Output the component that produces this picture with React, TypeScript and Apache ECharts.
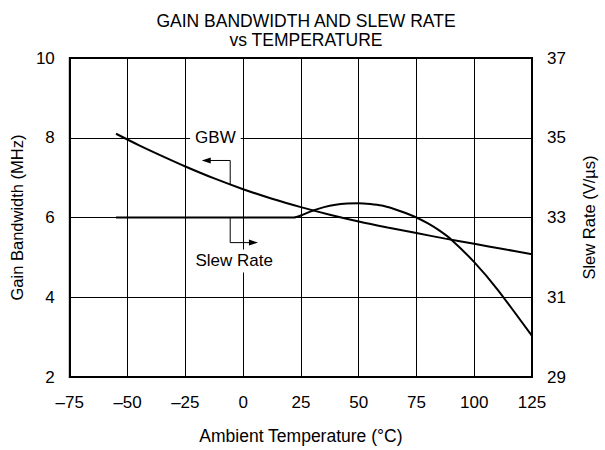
import React, { useEffect, useRef } from "react";
import * as echarts from "echarts";

const xTicks = [-75, -50, -25, 0, 25, 50, 75, 100, 125];
const gbwTemp = [-55, -45, -35, -25, -12.5, 0, 12.5, 25, 37.5, 50, 62.5, 75, 87.5, 100, 112.5, 125];
const gbwValues = [8.1, 7.81, 7.54, 7.28, 6.98, 6.71, 6.47, 6.26, 6.07, 5.9, 5.75, 5.61, 5.47, 5.34, 5.21, 5.08];
const slewTemp = [-55, 0, 22, 25, 30, 35, 40, 45, 50, 55, 60, 65, 70, 75, 80, 85, 90, 100, 110, 125];
const slewValues = [33, 33, 33, 33.05, 33.17, 33.26, 33.32, 33.35, 33.36, 33.34, 33.3, 33.22, 33.12, 33.0, 32.85, 32.67, 32.45, 31.88, 31.2, 30.03];

const FONT = "Liberation Sans, Arial, Helvetica, sans-serif";
const fmtX = (v: number) => (v < 0 ? "\u2013" + Math.abs(v) : String(v));

export default function App() {
  const ref = useRef<HTMLDivElement>(null);
  useEffect(() => {
    const chart = echarts.init(ref.current!, null, { renderer: "svg" });
    const axisLabel = { color: "#000", fontSize: 17, fontFamily: FONT };
    const option: any = {
      animation: false,
      backgroundColor: "#fff",
      title: {
        text: "GAIN BANDWIDTH AND SLEW RATE\nvs TEMPERATURE",
        left: 301,
        textAlign: "center",
        top: 6,
        textStyle: { color: "#000", fontSize: 17.5, fontWeight: "normal", fontFamily: FONT, lineHeight: 19 },
      },
      grid: { left: 68, right: 65, top: 58, bottom: 72, show: true, borderColor: "#000", borderWidth: 2, backgroundColor: "transparent" },
      xAxis: {
        type: "value",
        min: -75,
        max: 125,
        interval: 25,
        name: "Ambient Temperature (\u00b0C)",
        nameLocation: "middle",
        nameGap: 50,
        nameTextStyle: { color: "#000", fontSize: 17.5, fontFamily: FONT },
        axisLine: { show: true, onZero: false, lineStyle: { color: "#000", width: 2 } },
        axisTick: { show: false },
        axisLabel: { ...axisLabel, margin: 17, formatter: fmtX },
        splitLine: { show: true, lineStyle: { color: "#000", width: 1 } },
      },
      yAxis: [
        {
          type: "value",
          min: 2,
          max: 10,
          interval: 2,
          name: "Gain Bandwidth (MHz)",
          nameLocation: "middle",
          nameGap: 44,
          nameTextStyle: { color: "#000", fontSize: 16.5, fontFamily: FONT },
          axisLine: { show: true, onZero: false, lineStyle: { color: "#000", width: 2 } },
          axisTick: { show: false },
          axisLabel: { ...axisLabel, margin: 15 },
          splitLine: { show: true, lineStyle: { color: "#000", width: 1 } },
        },
        {
          type: "value",
          min: 29,
          max: 37,
          interval: 2,
          position: "right",
          name: "Slew Rate (V/\u00b5s)",
          nameLocation: "middle",
          nameGap: 48,
          nameRotate: 90,
          nameTextStyle: { color: "#000", fontSize: 16.5, fontFamily: FONT },
          axisLine: { show: true, onZero: false, lineStyle: { color: "#000", width: 2 } },
          axisTick: { show: false },
          axisLabel: { ...axisLabel, margin: 15 },
          splitLine: { show: false },
        },
      ],
      series: [
        {
          type: "line",
          name: "GBW",
          yAxisIndex: 0,
          data: gbwTemp.map((t, i) => [t, gbwValues[i]]),
          smooth: 0.3,
          showSymbol: false,
          lineStyle: { color: "#000", width: 2 },
          z: 5,
        },
        {
          type: "line",
          name: "Slew Rate",
          yAxisIndex: 1,
          data: slewTemp.map((t, i) => [t, slewValues[i]]),
          smooth: 0.25,
          showSymbol: false,
          lineStyle: { color: "#000", width: 2 },
          z: 5,
        },
      ],
    };
    chart.setOption(option);

    const p = (t: number, v: number) => chart.convertToPixel({ xAxisIndex: 0, yAxisIndex: 0 } as any, [t, v]) as number[];
    const ps = (t: number, v: number) => chart.convertToPixel({ xAxisIndex: 0, yAxisIndex: 1 } as any, [t, v]) as number[];

    const gbwText = p(-12, 8);
    const slewText = p(-3.9, 4.91);
    const a1 = p(-5.6, 6.84);
    const a2 = p(-5.6, 7.43);
    const a3 = p(-17.9, 7.43);
    const b1 = ps(-5.6, 33);
    const b2 = ps(-5.6, 32.37);
    const b3 = ps(6.4, 32.37);

    chart.setOption({
      graphic: [
        {
          type: "text",
          x: gbwText[0],
          y: gbwText[1],
          z: 10,
          style: {
            text: "GBW",
            fill: "#000",
            font: "17px " + FONT,
            align: "center",
            verticalAlign: "middle",
            backgroundColor: "#fff",
            padding: [2, 5],
          },
        },
        {
          type: "text",
          x: slewText[0],
          y: slewText[1],
          z: 10,
          style: {
            text: "Slew Rate",
            fill: "#000",
            font: "17px " + FONT,
            align: "center",
            verticalAlign: "middle",
            backgroundColor: "#fff",
            padding: [3, 2],
          },
        },
        {
          type: "polyline",
          z: 10,
          shape: { points: [a1, a2, [a3[0] + 6, a3[1]]] },
          style: { stroke: "#000", lineWidth: 1, fill: "none" },
        },
        {
          type: "polygon",
          z: 10,
          shape: { points: [[a3[0], a3[1]], [a3[0] + 9, a3[1] - 3], [a3[0] + 9, a3[1] + 3]] },
          style: { fill: "#000" },
        },
        {
          type: "polyline",
          z: 10,
          shape: { points: [b1, b2, [b3[0] - 6, b3[1]]] },
          style: { stroke: "#000", lineWidth: 1, fill: "none" },
        },
        {
          type: "polygon",
          z: 10,
          shape: { points: [[b3[0], b3[1]], [b3[0] - 9, b3[1] - 3], [b3[0] - 9, b3[1] + 3]] },
          style: { fill: "#000" },
        },
      ],
    });

    return () => chart.dispose();
  }, []);
  return <div ref={ref} style={{ width: 605, height: 450, position: "absolute", left: 0, top: 0 }} />;
}
